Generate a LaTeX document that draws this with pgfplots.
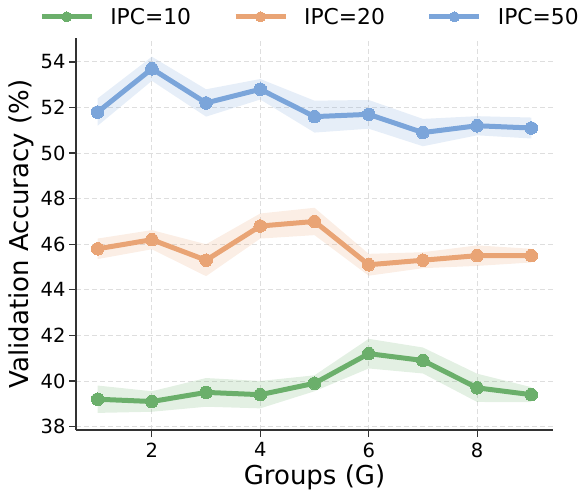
\documentclass[border=0pt]{standalone}
\usepackage{pgfplots}
\usepackage{pgfplotstable}
\pgfplotsset{compat=1.18}
\usepgfplotslibrary{fillbetween}
\usetikzlibrary{calc}
\usepackage{fontspec}
\setmainfont{DejaVu Sans}
\definecolor{cg}{RGB}{107,175,107}
\definecolor{co}{RGB}{233,164,117}
\definecolor{cb}{RGB}{123,165,218}
\definecolor{spine}{RGB}{51,51,51}
\pgfplotstableread{
x y e
1 39.2 0.6
2 39.1 0.45
3 39.5 0.63
4 39.4 0.6
5 39.9 0.35
6 41.2 0.65
7 40.9 0.57
8 39.7 0.62
9 39.4 0.33
}\tA
\pgfplotstableread{
x y e
1 45.8 0.45
2 46.2 0.42
3 45.3 0.7
4 46.8 0.55
5 47.0 0.6
6 45.1 0.48
7 45.3 0.35
8 45.5 0.45
9 45.5 0.3
}\tB
\pgfplotstableread{
x y e
1 51.8 0.6
2 53.7 0.53
3 52.2 0.6
4 52.8 0.45
5 51.6 0.7
6 51.7 0.63
7 50.9 0.6
8 51.2 0.42
9 51.1 0.46
}\tC
\begin{document}
\begin{tikzpicture}
\begin{axis}[
  scale only axis, width=477pt, height=392pt,
  xmin=0.6, xmax=9.4, ymin=37.85, ymax=55.05,
  xtick={2,4,6,8}, ytick={38,40,...,54},
  axis x line*=bottom, axis y line*=left,
  axis line style={line width=1.2pt, spine},
  tick align=outside, major tick length=7pt,
  tick style={line width=1.2pt, spine},
  grid=major, grid style={dash pattern=on 5pt off 3pt, line width=0.9pt, black!13},
  /pgf/number format/assume math mode=true,
  ticklabel style={font=\fontsize{19.5}{22}\selectfont},
  xticklabel style={yshift=-2pt},
  xlabel={Groups (G)}, ylabel={Validation Accuracy (\%)},
  label style={font=\fontsize{26}{30}\selectfont},
  xlabel style={yshift=-1pt},
  legend columns=3,
  legend style={draw=none, fill=none, inner sep=0pt, outer sep=0pt,
    at={(-0.077,1.054)}, anchor=west,
    font=\fontsize{21.8}{25}\selectfont,
    nodes={inner sep=0pt},
    /tikz/every odd column/.append style={column sep=16pt},
    /tikz/every even column/.append style={column sep=42pt}},
  legend image code/.code={\draw[#1, mark repeat=2, mark phase=2, mark size=5pt] plot coordinates {(0pt,0pt) (25pt,0pt) (50pt,0pt)};},
]
\addplot[draw=none, name path=a1, forget plot] table[x=x, y expr=\thisrow{y}+\thisrow{e}] {\tA};
\addplot[draw=none, name path=a2, forget plot] table[x=x, y expr=\thisrow{y}-\thisrow{e}] {\tA};
\addplot[fill=cg, fill opacity=0.19, draw=none, forget plot] fill between[of=a1 and a2];
\addplot[draw=none, name path=b1, forget plot] table[x=x, y expr=\thisrow{y}+\thisrow{e}] {\tB};
\addplot[draw=none, name path=b2, forget plot] table[x=x, y expr=\thisrow{y}-\thisrow{e}] {\tB};
\addplot[fill=co, fill opacity=0.19, draw=none, forget plot] fill between[of=b1 and b2];
\addplot[draw=none, name path=c1, forget plot] table[x=x, y expr=\thisrow{y}+\thisrow{e}] {\tC};
\addplot[draw=none, name path=c2, forget plot] table[x=x, y expr=\thisrow{y}-\thisrow{e}] {\tC};
\addplot[fill=cb, fill opacity=0.19, draw=none, forget plot] fill between[of=c1 and c2];
\addplot[cg, line width=5pt, mark=*, mark size=6.3pt, mark options={fill=cg, draw=cg, line width=0pt}] table[x=x,y=y] {\tA};
\addlegendentry{IPC=10}
\addplot[co, line width=5pt, mark=*, mark size=6.3pt, mark options={fill=co, draw=co, line width=0pt}] table[x=x,y=y] {\tB};
\addlegendentry{IPC=20}
\addplot[cb, line width=5pt, mark=*, mark size=6.3pt, mark options={fill=cb, draw=cb, line width=0pt}] table[x=x,y=y] {\tC};
\addlegendentry{IPC=50}
\end{axis}
\pgfresetboundingbox
\path ($(current axis.south west)+(-76pt,-62pt)$) rectangle ($(current axis.north east)+(29pt,38pt)$);
\end{tikzpicture}
\end{document}
